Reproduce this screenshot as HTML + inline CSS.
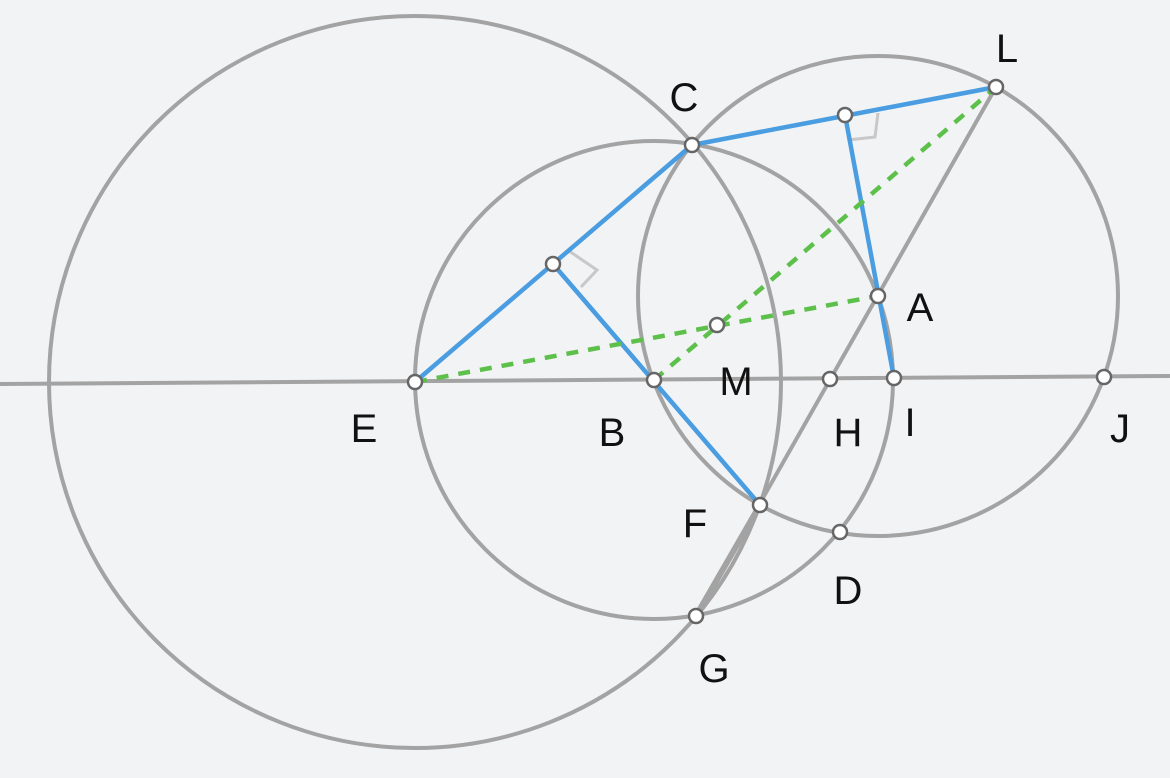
<!DOCTYPE html>
<html><head><meta charset="utf-8"><style>
html,body{margin:0;padding:0;background:#f2f3f5;}
svg{display:block;}
text{font-family:"Liberation Sans",sans-serif;font-size:40px;fill:#111;text-anchor:middle;}
</style></head><body>
<svg width="1170" height="778" viewBox="0 0 1170 778">
<rect width="1170" height="778" fill="#f2f3f5"/>
<g fill="none" stroke="#a3a3a3" stroke-width="4">
<circle cx="415" cy="382" r="366"/>
<circle cx="654" cy="380" r="239"/>
<circle cx="878" cy="296" r="240"/>
<line x1="0" y1="384" x2="1170" y2="376"/>
<line x1="996" y1="87" x2="696" y2="616"/>
<line x1="760" y1="505" x2="696" y2="616" stroke-width="6"/>
</g>
<g fill="none" stroke="#c8c8c8" stroke-width="3">
<polyline points="569,251 597,270 581,287"/>
<polyline points="848,140 875,137 878,113"/>
</g>
<g stroke="#4a9de0" stroke-width="4.5" fill="none" stroke-linecap="round">
<line x1="415" y1="382" x2="692" y2="145"/>
<line x1="692" y1="145" x2="996" y2="87"/>
<line x1="845" y1="115" x2="894" y2="378"/>
<line x1="553" y1="264" x2="760" y2="505"/>
</g>
<g stroke="#5cc04a" stroke-width="4.5" fill="none" stroke-dasharray="12,10">
<line x1="415" y1="382" x2="878" y2="296"/>
<path d="M654,380 Q760,290 996,87"/>
</g>
<g fill="#fff" stroke="#666" stroke-width="2.5">
<circle cx="415" cy="382" r="7"/>
<circle cx="654" cy="380" r="7"/>
<circle cx="717" cy="325" r="7"/>
<circle cx="830" cy="379" r="7"/>
<circle cx="894" cy="378" r="7"/>
<circle cx="1104" cy="377" r="7"/>
<circle cx="878" cy="296" r="7"/>
<circle cx="692" cy="145" r="7"/>
<circle cx="996" cy="87" r="7"/>
<circle cx="760" cy="505" r="7"/>
<circle cx="840" cy="532" r="7"/>
<circle cx="696" cy="616" r="7"/>
<circle cx="553" cy="264" r="7"/>
<circle cx="845" cy="115" r="7"/>
</g>
<text x="1007" y="62">L</text>
<text x="684" y="111">C</text>
<text x="920" y="321">A</text>
<text x="736" y="395">M</text>
<text x="364" y="442">E</text>
<text x="612" y="446">B</text>
<text x="848" y="446">H</text>
<text x="910" y="436">I</text>
<text x="1120" y="442">J</text>
<text x="695" y="537">F</text>
<text x="848" y="604">D</text>
<text x="714" y="682">G</text>
</svg>
</body></html>
